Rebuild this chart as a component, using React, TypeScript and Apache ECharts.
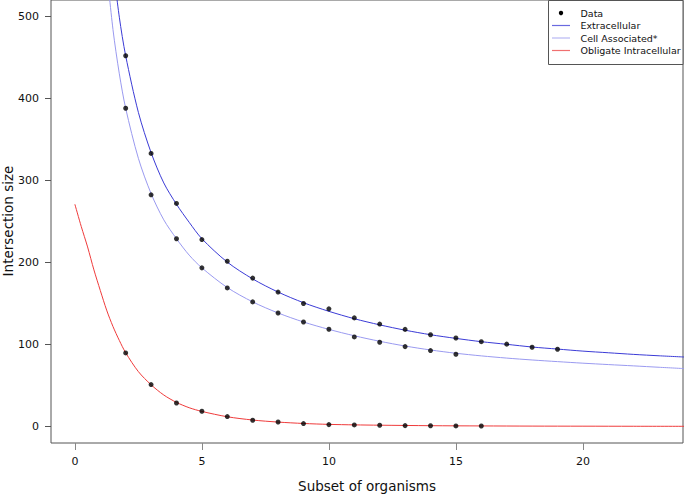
import React, { useEffect, useRef } from "react";
import * as echarts from "echarts";

// ---- data ----
const extraX = [2, 3, 4, 5, 6, 7, 8, 9, 10, 11, 12, 13, 14, 15, 16, 17, 18, 19];
const extraY = [452, 333, 272, 228, 201.5, 181, 164, 150, 143.5, 132.5, 125, 118.5, 112, 108, 103.5, 100.5, 96.7, 94.3];

const cellX = [2, 3, 4, 5, 6, 7, 8, 9, 10, 11, 12, 13, 14, 15];
const cellY = [388, 282.5, 229, 193.5, 169, 152, 138.5, 127.5, 118.7, 109.3, 102.8, 97.5, 92.7, 88.2];

const obligX = [2, 3, 4, 5, 6, 7, 8, 9, 10, 11, 12, 13, 14, 15, 16];
const obligY = [89.8, 51.2, 28.8, 18.7, 12.2, 7.7, 5.6, 3.7, 2.4, 2.0, 1.6, 1.2, 1.0, 0.8, 0.7];

// fitted curves
const extraCurveX = [1.5, 1.75, 2, 2.5, 3, 3.5, 4, 4.5, 5, 6, 7, 8, 9, 10, 11, 12, 13, 14, 15, 16, 17, 18, 19, 20, 21, 22, 23, 24];
const extraCurveY = [561, 499, 452, 383, 334, 297, 271, 249, 229, 200.5, 180, 164, 151, 140.5, 131.5, 124, 117.5, 112, 107.5, 103.5, 100.3, 97, 94.5, 92, 90, 88, 86.3, 84.8];

const cellCurveX = [1.25, 1.5, 1.75, 2, 2.5, 3, 3.5, 4, 4.5, 5, 6, 7, 8, 9, 10, 11, 12, 13, 14, 15, 16, 17, 18, 19, 20, 21, 22, 23, 24];
const cellCurveY = [557, 484, 430, 388, 327, 284, 252, 229, 209, 193.5, 169.5, 152, 138.5, 127.5, 118.5, 110.7, 104, 98.2, 93.4, 89.4, 86.2, 83.5, 81.2, 79.2, 77.3, 75.6, 74, 72.3, 70.7];

const obligCurveX = [0, 0.25, 0.5, 0.75, 1, 1.25, 1.5, 1.75, 2, 2.5, 3, 3.5, 4, 4.5, 5, 6, 7, 8, 9, 10, 11, 12, 14, 16, 18, 20, 22, 24];
const obligCurveY = [271, 244, 219, 191, 166, 142, 122, 105, 90, 67, 51, 38.5, 29.5, 23, 18.5, 12, 8, 5.5, 3.8, 2.7, 2.1, 1.7, 1.1, 0.8, 0.6, 0.5, 0.4, 0.35];

const xTicks = [0, 5, 10, 15, 20];
const yTicks = [0, 100, 200, 300, 400, 500];

const legendLabels = ["Data", "Extracellular", "Cell Associated*", "Obligate Intracellular"];

const COL_EXTRA = "#3b3bd6";
const COL_CELL = "#9a9af0";
const COL_OBLIG = "#ef3b3b";
const FONT = "DejaVu Sans";

const zip = (xs: number[], ys: number[]) => xs.map((x, i) => [x, ys[i]]);

export default function App() {
  const ref = useRef<HTMLDivElement>(null);
  useEffect(() => {
    if (!ref.current) return;
    const chart = echarts.init(ref.current, undefined, { renderer: "svg" });

    const lineSeries = (name: string, xs: number[], ys: number[], color: string) => ({
      name,
      type: "line",
      data: zip(xs, ys),
      smooth: 0.3,
      showSymbol: false,
      clip: true,
      lineStyle: { color, width: 1 },
      itemStyle: { color },
      z: 2,
    });
    const dotSeries = (xs: number[], ys: number[]) => ({
      name: "Data",
      type: "scatter",
      data: zip(xs, ys),
      symbol: "circle",
      symbolSize: 5,
      itemStyle: { color: "#000" },
      z: 3,
    });

    const legX = 548;
    const legRows = [13, 25.5, 38, 50.5];
    const legCols = ["#000", "#6a6ae0", "#b8b8f4", "#f07070"];
    const legendGraphics: any[] = [
      {
        type: "rect",
        shape: { x: legX + 0.5, y: 0.5, width: 683 - legX - 0.5, height: 64 },
        style: { fill: "#fff", stroke: "#555", lineWidth: 1 },
        z: 10,
      },
    ];
    legendLabels.forEach((lab, i) => {
      if (i === 0) {
        legendGraphics.push({
          type: "circle",
          shape: { cx: 561, cy: legRows[i], r: 2.2 },
          style: { fill: "#000" },
          z: 11,
        });
      } else {
        legendGraphics.push({
          type: "line",
          shape: { x1: 552, y1: legRows[i], x2: 570, y2: legRows[i] },
          style: { stroke: legCols[i], lineWidth: 1.2 },
          z: 11,
        });
      }
      legendGraphics.push({
        type: "text",
        x: 580.5,
        y: legRows[i],
        style: {
          text: lab,
          fill: "#111",
          font: `9.5px "${FONT}"`,
          textAlign: "left",
          textVerticalAlign: "middle",
        },
        z: 11,
      });
    });

    chart.setOption({
      animation: false,
      backgroundColor: "#fff",
      grid: {
        left: 51,
        right: 2,
        top: 0,
        bottom: 53,
        show: true,
        borderColor: "#555",
        borderWidth: 1,
        backgroundColor: "transparent",
      },
      xAxis: {
        type: "value",
        min: -0.94,
        max: 23.94,
        splitLine: { show: false },
        axisLine: { show: false, onZero: false },
        axisTick: {
          show: true,
          customValues: xTicks,
          length: 7,
          lineStyle: { color: "#888" },
        },
        axisLabel: {
          customValues: xTicks,
          fontSize: 11,
          fontFamily: FONT,
          color: "#111",
          margin: 13,
        },
      },
      yAxis: {
        type: "value",
        min: -20,
        max: 520,
        splitLine: { show: false },
        axisLine: { show: false, onZero: false },
        axisTick: {
          show: true,
          customValues: yTicks,
          length: 6,
          lineStyle: { color: "#555" },
        },
        axisLabel: {
          customValues: yTicks,
          fontSize: 11,
          fontFamily: FONT,
          color: "#111",
          margin: 12,
        },
      },
      graphic: [
        {
          type: "text",
          x: 8,
          y: 221,
          rotation: Math.PI / 2,
          style: {
            text: "Intersection size",
            fill: "#111",
            font: `13.5px "${FONT}"`,
            textAlign: "center",
            textVerticalAlign: "middle",
          },
        },
        {
          type: "text",
          x: 367,
          y: 486,
          style: {
            text: "Subset of organisms",
            fill: "#111",
            font: `13.5px "${FONT}"`,
            textAlign: "center",
            textVerticalAlign: "middle",
          },
        },
        ...legendGraphics,
      ],
      series: [
        lineSeries("Extracellular", extraCurveX, extraCurveY, COL_EXTRA),
        lineSeries("Cell Associated*", cellCurveX, cellCurveY, COL_CELL),
        lineSeries("Obligate Intracellular", obligCurveX, obligCurveY, COL_OBLIG),
        dotSeries(extraX, extraY),
        dotSeries(cellX, cellY),
        dotSeries(obligX, obligY),
      ],
    });
    return () => chart.dispose();
  }, []);
  return (
    <div
      ref={ref}
      style={{ position: "fixed", left: 0, top: 0, width: 685, height: 496 }}
    />
  );
}
